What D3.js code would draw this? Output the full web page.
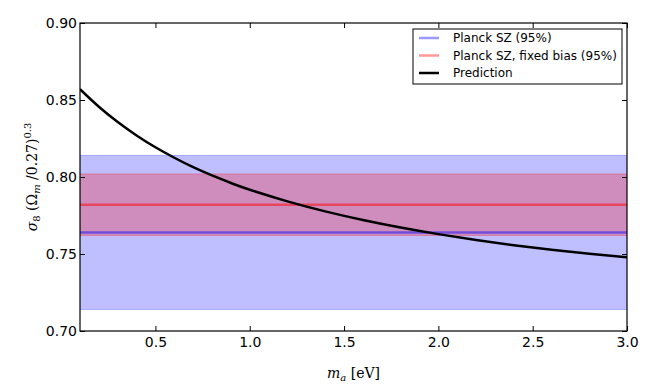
<!DOCTYPE html>
<html><head><meta charset="utf-8">
<script src="https://cdn.jsdelivr.net/npm/d3@7"></script>
<style>body{margin:0;background:#fff}svg{display:block}</style>
</head><body>
<svg id="chart" width="654" height="392"></svg>
<script>
const massValues = [0.1,0.2,0.3,0.4,0.5,0.6,0.7,0.8,0.9,1.0,1.2,1.4,1.6,1.8,2.0,2.2,2.4,2.6,2.8,3.0];
const predictionValues = [0.857,0.8456,0.8357,0.8270,0.8193,0.8125,0.8064,0.8010,0.7961,0.7917,0.7842,0.7777,0.7721,0.7672,0.7629,0.7591,0.7557,0.7527,0.7501,0.7479];
const planckSZ = {center:0.764, low:0.714, high:0.814};
const planckFixed = {center:0.782, low:0.762, high:0.802};
const xTicks = [0.5,1.0,1.5,2.0,2.5,3.0];
const yTicks = [0.70,0.75,0.80,0.85,0.90];
const legendLabels = ["Planck SZ (95%)","Planck SZ, fixed bias (95%)","Prediction"];

const svg = d3.select("#chart");
const m = {l:80, r:27, t:23, b:61};
const W = 654, H = 392;
const x = d3.scaleLinear().domain([0.1,3.0]).range([m.l, W-m.r]);
const y = d3.scaleLinear().domain([0.70,0.90]).range([H-m.b, m.t]);

svg.append("defs").append("clipPath").attr("id","clip").append("rect")
  .attr("x",m.l).attr("y",m.t).attr("width",W-m.l-m.r).attr("height",H-m.t-m.b);
const g = svg.append("g").attr("clip-path","url(#clip)");

function band(b, color, op){
  g.append("rect").attr("x",x(0.1)).attr("width",x(3.0)-x(0.1))
    .attr("y",y(b.high)).attr("height",y(b.low)-y(b.high))
    .attr("fill",color).attr("fill-opacity",op);
  [b.low,b.high].forEach(v=>g.append("line").attr("x1",x(0.1)).attr("x2",x(3.0))
    .attr("y1",y(v)).attr("y2",y(v)).attr("stroke",color).attr("stroke-opacity",op).attr("stroke-width",1));
}
band(planckSZ,"#0000ff",0.25);
band(planckFixed,"#ff0000",0.26);
g.append("line").attr("x1",x(0.1)).attr("x2",x(3.0)).attr("y1",y(planckSZ.center)).attr("y2",y(planckSZ.center))
  .attr("stroke","#0000ff").attr("stroke-opacity",0.45).attr("stroke-width",2.5);
g.append("line").attr("x1",x(0.1)).attr("x2",x(3.0)).attr("y1",y(planckFixed.center)).attr("y2",y(planckFixed.center))
  .attr("stroke","#ff0000").attr("stroke-opacity",0.5).attr("stroke-width",2.5);

const line = d3.line().x((d,i)=>x(massValues[i])).y(d=>y(d)).curve(d3.curveNatural);
g.append("path").datum(predictionValues).attr("d",line).attr("fill","none")
  .attr("stroke","#000").attr("stroke-width",2.5);

// axes
const font = "DejaVu Sans, sans-serif";
const axB = svg.append("g").attr("transform",`translate(0,${H-m.b})`)
  .call(d3.axisBottom(x).tickValues(xTicks).tickFormat(d3.format(".1f")).tickSizeInner(-5).tickSizeOuter(0).tickPadding(6));
const axT = svg.append("g").attr("transform",`translate(0,${m.t})`)
  .call(d3.axisTop(x).tickValues(xTicks).tickFormat("").tickSizeInner(-5).tickSizeOuter(0));
const axL = svg.append("g").attr("transform",`translate(${m.l},0)`)
  .call(d3.axisLeft(y).tickValues(yTicks).tickFormat(d3.format(".2f")).tickSizeInner(-5).tickSizeOuter(0).tickPadding(4));
const axR = svg.append("g").attr("transform",`translate(${W-m.r},0)`)
  .call(d3.axisRight(y).tickValues(yTicks).tickFormat("").tickSizeInner(-5).tickSizeOuter(0));
[axB,axT,axL,axR].forEach(a=>{
  a.select(".domain").remove();
  a.selectAll(".tick line").attr("stroke","#000").attr("stroke-width",1);
  a.selectAll("text").attr("font-family",font).attr("font-size",14).attr("fill","#000");
});
axL.selectAll(".tick text").attr("dx",1);
svg.append("rect").attr("x",m.l).attr("y",m.t).attr("width",W-m.l-m.r).attr("height",H-m.t-m.b)
  .attr("fill","none").attr("stroke","#000").attr("stroke-width",1.2);

// axis labels
const serif = "DejaVu Serif, Liberation Serif, serif";
const xl = svg.append("text").attr("x",(m.l+W-m.r)/2).attr("y",378).attr("text-anchor","middle")
  .attr("font-family",serif).attr("font-size",14);
xl.append("tspan").attr("font-style","italic").text("m");
xl.append("tspan").attr("font-style","italic").attr("font-size",10).attr("dy",3).text("a");
xl.append("tspan").attr("dy",-3).text(" [eV]");

const yl = svg.append("text").attr("transform",`translate(37,${(m.t+H-m.b)/2}) rotate(-90)`)
  .attr("text-anchor","middle").attr("font-family",serif).attr("font-size",14);
yl.append("tspan").attr("font-style","italic").text("σ");
yl.append("tspan").attr("font-size",10).attr("dy",3).text("8");
yl.append("tspan").attr("dy",-3).text(" (Ω");
yl.append("tspan").attr("font-style","italic").attr("font-size",10).attr("dy",3).text("m");
yl.append("tspan").attr("dy",-3).text(" /0.27)");
yl.append("tspan").attr("font-size",10).attr("dy",-6).text("0.3");

// legend
const lg = svg.append("g");
lg.append("rect").attr("x",413).attr("y",29).attr("width",209).attr("height",55)
  .attr("fill","#fff").attr("stroke","#000").attr("stroke-width",1);
const legColors = [["#0000ff",0.4],["#ff0000",0.4],["#000",1]];
legendLabels.forEach((t,i)=>{
  const yy = 38 + i*17.5;
  lg.append("line").attr("x1",419).attr("x2",439).attr("y1",yy).attr("y2",yy)
    .attr("stroke",legColors[i][0]).attr("stroke-opacity",legColors[i][1]).attr("stroke-width",2.5);
  lg.append("text").attr("x",453).attr("y",yy+4.3).attr("font-family",font).attr("font-size",12).text(t);
});
</script>
</body></html>
